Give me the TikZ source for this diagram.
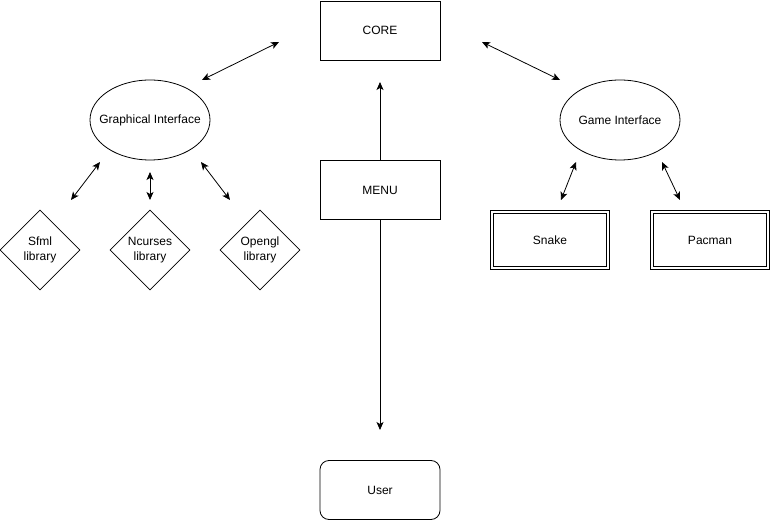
\documentclass[tikz,border=0pt]{standalone}
\usepackage{fontspec}
\setmainfont{Liberation Sans}
\usetikzlibrary{arrows.meta,shapes.geometric}

\begin{document}
\begin{tikzpicture}[x=1pt,y=-1pt,line width=0.8pt,>={Stealth[length=8pt,width=7pt,inset=2pt]},
    every node/.style={font=\fontsize{12}{15}\selectfont,align=center,inner sep=0pt},
    box/.style={draw,minimum width=120pt,minimum height=59pt},
    iface/.style={draw,ellipse,inner xsep=-10pt,minimum width=120pt,minimum height=80pt},
    lib/.style={draw,diamond,minimum width=80pt,minimum height=80pt},
    game/.style={draw,double,double distance=2pt,minimum width=116pt,minimum height=56pt}]
  \useasboundingbox (0,0) rectangle (771,521);
  % main column
  \node[box] (core) at (380,30.5) {CORE};
  \node[box] (menu) at (380,190) {MENU};
  \node[box,rounded corners=9pt] (user) at (380,490) {User};
  % interfaces
  \node[iface] (graph) at (150,120) {Graphical Interface};
  \node[iface] (gamei) at (620,120) {Game Interface};
  % libraries and games
  \node[lib] (sfml)    at ( 40,250) {Sfml\\library};
  \node[lib] (ncurses) at (150,250) {Ncurses\\library};
  \node[lib] (opengl)  at (260,250) {Opengl\\library};
  \node[game] (snake)  at (550,240) {Snake};
  \node[game] (pacman) at (710,240) {Pacman};
  % free arrow ends
  \coordinate (coreL)  at (279,42);  \coordinate (graphT)  at (202,80);
  \coordinate (coreR)  at (482,42);  \coordinate (gameT)   at (560,80);
  \coordinate (coreB)  at (380,82);  \coordinate (userT)   at (380,430);
  \coordinate (graphA) at (100,162); \coordinate (sfmlT)   at ( 71,200);
  \coordinate (graphB) at (150,172); \coordinate (ncursesT) at (150,200);
  \coordinate (graphC) at (201,162); \coordinate (openglT) at (230,200);
  \coordinate (gameA)  at (576,162); \coordinate (snakeT)  at (561,200);
  \coordinate (gameB)  at (662,162); \coordinate (pacmanT) at (680,200);
  % connectors
  \draw[<->] (coreL) -- (graphT);
  \draw[<->] (coreR) -- (gameT);
  \draw[->] (menu.north) -- (coreB);
  \draw[->] (menu.south) -- (userT);
  \draw[<->] (graphA) -- (sfmlT);
  \draw[<->] (graphB) -- (ncursesT);
  \draw[<->] (graphC) -- (openglT);
  \draw[<->] (gameA) -- (snakeT);
  \draw[<->] (gameB) -- (pacmanT);
\end{tikzpicture}
\end{document}
